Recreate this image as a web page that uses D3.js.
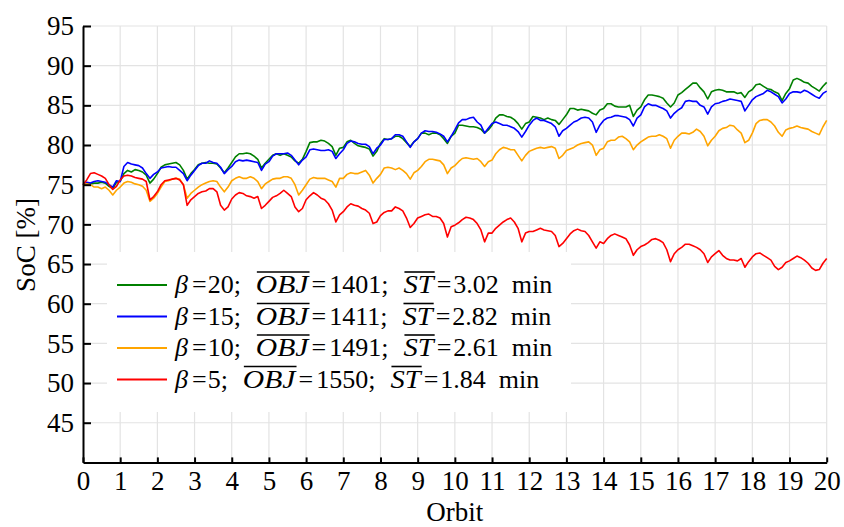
<!DOCTYPE html>
<html>
<head>
<meta charset="utf-8">
<script src="https://cdn.jsdelivr.net/npm/d3@7"></script>
<style>
  html, body { margin: 0; padding: 0; background: #fff; }
  svg { display: block; }
</style>
</head>
<body>
<svg id="chart" width="844" height="527"></svg>
<script>
// State of charge over 20 orbits, sampled every 0.1 orbit
const orbitStep = 0.1;

const socBeta20 = [
  75.0, 75.2, 75.1, 75.2, 75.2, 75.3, 75.2, 74.8, 74.5, 75.3,
  75.4, 76.4, 76.8, 76.6, 76.9, 76.8, 76.6, 76.2, 75.2, 75.7,
  76.4, 77.2, 77.5, 77.6, 77.7, 77.8, 77.5, 76.8, 75.7, 76.4,
  76.9, 77.5, 77.7, 77.8, 77.7, 77.7, 77.6, 77.1, 76.5, 77.1,
  77.8, 78.5, 78.9, 78.9, 79.0, 78.9, 78.6, 78.2, 77.1, 77.7,
  78.2, 78.7, 78.9, 78.7, 78.9, 78.7, 78.5, 78.0, 77.7, 78.2,
  79.2, 80.3, 80.4, 80.4, 80.6, 80.5, 80.2, 79.8, 78.7, 79.6,
  79.7, 80.4, 80.6, 80.2, 79.9, 79.8, 79.7, 79.5, 78.6, 79.2,
  80.2, 80.8, 80.7, 80.8, 81.1, 81.1, 80.8, 80.3, 79.8, 80.4,
  80.8, 81.5, 81.5, 81.3, 81.5, 81.5, 81.3, 80.8, 80.2, 81.1,
  81.5, 82.5, 82.5, 82.4, 82.3, 82.3, 82.2, 82.0, 81.5, 81.9,
  82.5, 83.4, 83.8, 83.8, 83.6, 83.5, 83.2, 82.7, 82.0, 82.7,
  82.9, 83.6, 83.5, 83.4, 83.2, 83.4, 83.2, 83.1, 82.6, 83.2,
  83.8, 84.6, 84.6, 84.4, 84.5, 84.4, 84.3, 84.0, 83.8, 84.4,
  84.6, 85.2, 85.2, 84.9, 84.8, 84.8, 84.8, 85.0, 83.6, 84.4,
  84.8, 85.7, 86.3, 86.3, 86.2, 86.1, 85.9, 85.3, 84.8, 85.3,
  86.3, 86.6, 87.0, 87.4, 87.8, 87.8, 87.2, 86.7, 85.8, 86.7,
  86.9, 87.0, 86.9, 86.7, 86.7, 86.7, 86.5, 86.6, 86.0, 86.7,
  87.0, 87.6, 87.7, 87.4, 87.1, 87.0, 86.7, 86.5, 85.6, 86.5,
  87.1, 88.2, 88.4, 88.2, 87.9, 87.8, 87.4, 87.1, 86.8, 87.4,
  87.9
];

const socBeta15 = [
  75.0, 75.3, 75.2, 75.4, 75.5, 75.4, 75.3, 75.0, 74.7, 75.5,
  75.4, 77.3, 77.8, 77.6, 77.5, 77.4, 77.1, 76.4, 75.8, 76.3,
  76.6, 77.1, 77.2, 77.3, 77.2, 77.2, 76.8, 76.4, 75.5, 76.2,
  76.8, 77.4, 77.7, 77.7, 78.0, 77.8, 77.7, 77.2, 76.4, 76.9,
  77.3, 77.9, 78.1, 78.0, 78.1, 78.0, 77.9, 77.8, 76.8, 77.6,
  77.9, 78.6, 78.9, 78.9, 78.9, 79.0, 78.7, 78.1, 77.5, 78.1,
  78.5, 79.4, 79.5, 79.4, 79.3, 79.3, 79.4, 79.2, 78.3, 78.9,
  79.4, 80.2, 80.5, 80.4, 80.2, 80.1, 80.1, 79.8, 78.9, 79.6,
  80.0, 80.7, 80.7, 80.8, 81.3, 81.3, 81.1, 80.4, 79.7, 80.4,
  80.8, 81.5, 81.8, 81.7, 81.7, 81.6, 81.4, 81.1, 80.4, 81.1,
  81.9, 82.8, 83.2, 83.2, 83.4, 83.5, 82.9, 82.5, 81.5, 82.1,
  82.7, 82.9, 82.7, 82.5, 82.5, 82.3, 82.1, 81.7, 81.0, 81.7,
  82.5, 83.1, 83.4, 83.1, 83.1, 82.9, 82.7, 82.3, 81.1, 81.8,
  82.1, 82.5, 82.9, 83.1, 83.4, 83.5, 83.4, 82.9, 81.6, 82.5,
  83.1, 83.4, 83.5, 83.7, 83.7, 83.6, 83.5, 83.2, 82.4, 83.4,
  83.8, 84.8, 85.2, 85.0, 85.0, 84.8, 84.6, 84.3, 83.4, 84.0,
  84.4, 84.7, 85.5, 85.6, 85.5, 85.5, 85.0, 84.8, 83.9, 84.8,
  85.2, 85.3, 85.5, 85.6, 85.8, 85.7, 85.6, 85.5, 84.3, 85.0,
  85.7, 86.1, 86.3, 86.5, 86.9, 86.7, 86.4, 86.1, 85.3, 85.8,
  86.5, 86.7, 86.7, 86.6, 86.9, 86.7, 86.4, 86.1, 85.9, 86.5,
  86.8
];

const socBeta10 = [
  75.0, 75.1, 75.0, 74.7, 74.7, 74.5, 74.7, 74.3, 73.7, 74.3,
  74.7, 75.2, 75.4, 75.3, 75.1, 75.0, 74.8, 74.3, 72.9, 73.3,
  73.9, 74.7, 75.4, 75.5, 75.7, 75.8, 75.7, 75.0, 73.3, 73.9,
  74.3, 74.7, 75.0, 75.2, 75.4, 75.5, 75.4, 74.7, 74.1, 74.7,
  75.5, 75.8, 76.0, 75.8, 75.8, 76.0, 75.8, 75.4, 74.5, 75.1,
  75.4, 75.7, 75.8, 75.8, 76.0, 76.0, 75.8, 75.0, 73.7, 74.3,
  75.0, 75.7, 75.9, 75.8, 75.8, 75.8, 75.6, 75.4, 74.7, 75.8,
  75.8, 76.3, 76.5, 76.4, 76.4, 76.6, 76.8, 76.2, 75.2, 75.8,
  76.3, 77.1, 77.2, 77.1, 76.9, 77.1, 76.8, 76.4, 75.7, 76.5,
  76.8, 77.3, 77.9, 78.2, 78.2, 78.1, 78.0, 77.5, 76.4, 77.1,
  77.4, 77.9, 78.3, 78.4, 78.3, 78.2, 78.3, 77.9, 77.3, 77.9,
  78.1, 78.9, 79.4, 79.7, 79.6, 79.4, 79.4, 78.7, 78.0, 78.7,
  79.2, 79.4, 79.6, 79.7, 79.6, 79.7, 79.8, 79.6, 78.3, 78.7,
  79.3, 79.5, 79.7, 80.0, 80.2, 80.3, 80.4, 80.0, 78.7, 79.4,
  79.6, 80.4, 80.6, 80.6, 81.0, 81.1, 80.8, 80.4, 79.4, 80.0,
  80.4, 80.7, 81.0, 81.1, 81.1, 81.3, 81.1, 80.8, 79.6, 80.6,
  81.1, 81.5, 81.5, 81.4, 81.6, 82.0, 81.7, 81.1, 79.9, 80.6,
  81.1, 81.8, 82.1, 82.2, 82.5, 82.4, 81.9, 81.5, 80.3, 80.6,
  81.5, 82.7, 83.1, 83.2, 83.2, 82.9, 82.4, 81.6, 81.1, 81.9,
  82.1, 82.2, 82.4, 82.2, 82.1, 82.0, 81.7, 81.5, 81.3, 82.3,
  83.1
];

const socBeta5 = [
  75.0, 75.6, 76.4, 76.5, 76.3, 76.1, 75.8, 75.0, 74.4, 74.8,
  75.6, 76.1, 76.2, 76.1, 75.9, 75.8, 75.7, 75.4, 73.1, 73.5,
  74.1, 75.0, 75.5, 75.6, 75.7, 75.8, 75.6, 75.0, 72.4, 73.1,
  73.5, 73.9, 74.1, 74.2, 74.5, 74.5, 74.1, 72.4, 71.8, 72.2,
  73.2, 73.7, 74.0, 73.9, 73.6, 73.5, 73.3, 73.5, 72.0, 72.4,
  72.9, 73.4, 73.6, 73.9, 74.3, 73.9, 73.5, 72.2, 71.6, 72.0,
  73.1, 73.6, 74.0, 73.7, 73.3, 73.1, 72.6, 71.8, 70.3, 71.2,
  71.6, 72.2, 72.6, 72.4, 72.3, 72.0, 71.8, 71.4, 70.1, 70.3,
  71.1, 71.5, 71.7, 71.7, 72.2, 72.0, 71.7, 70.8, 69.6, 70.1,
  70.8, 71.0, 71.2, 71.3, 71.0, 71.0, 70.8, 70.1, 68.4, 69.7,
  69.9, 70.2, 70.6, 70.9, 70.8, 70.6, 70.1, 69.3, 67.8, 68.9,
  68.9, 69.5, 69.9, 70.3, 70.6, 70.8, 70.3, 69.5, 67.8, 68.9,
  69.1, 69.1, 69.3, 69.5, 69.3, 69.2, 69.1, 68.6, 67.2, 67.6,
  68.2, 68.8, 69.2, 69.4, 69.2, 69.1, 68.6, 67.8, 67.0, 67.8,
  67.6, 68.2, 68.6, 68.8, 68.6, 68.4, 68.2, 67.4, 66.1, 66.8,
  67.2, 67.4, 67.7, 68.1, 68.2, 68.0, 67.7, 66.8, 65.3, 66.3,
  66.8, 67.1, 67.5, 67.5, 67.3, 67.1, 66.8, 66.3, 65.2, 65.9,
  66.3, 66.7, 66.1, 65.7, 65.5, 65.5, 65.4, 65.7, 64.6, 65.3,
  65.9, 66.3, 66.4, 66.1, 65.8, 65.5, 64.7, 64.3, 64.6, 65.2,
  65.4, 65.7, 66.0, 65.8, 65.5, 65.1, 64.5, 64.2, 64.3, 65.1,
  65.7
];

// Legend entries: weighting factor, mean objective, mean solve time
const betaValues = [20, 15, 10, 5];
const objValues = [1401, 1411, 1491, 1550];
const stValues = ["3.02", "2.82", "2.61", "1.84"];
const seriesColors = ["#008000", "#0000ff", "#ffa500", "#ff0000"];
const seriesData = [socBeta20, socBeta15, socBeta10, socBeta5];

const xTickValues = [0, 1, 2, 3, 4, 5, 6, 7, 8, 9, 10, 11, 12, 13, 14, 15, 16, 17, 18, 19, 20];
const yTickValues = [45, 50, 55, 60, 65, 70, 75, 80, 85, 90, 95];

// pick the first installed serif face
function pickFont(candidates) {
  const ctx = document.createElement("canvas").getContext("2d");
  const sample = "SoC Orbit 0123456789 OBJ min";
  ctx.font = "40px monospace";
  const ref = ctx.measureText(sample).width;
  for (const f of candidates) {
    ctx.font = `40px "${f}", monospace`;
    if (Math.abs(ctx.measureText(sample).width - ref) > 0.5) return `"${f}"`;
  }
  return "serif";
}
const serifFont = pickFont(["Liberation Serif", "Tinos", "Times New Roman", "Times", "Nimbus Roman", "DejaVu Serif", "Noto Serif"]);

const svg = d3.select("#chart").style("font-family", serifFont);
const plot = { left: 83, right: 826.7, top: 26, bottom: 462.4 };

const x = d3.scaleLinear().domain([0, 20]).range([plot.left, plot.right]);
const y = d3.scaleLinear().domain([40, 95]).range([plot.bottom, plot.top]);

// grid
const grid = svg.append("g").attr("stroke", "#e3e3e3").attr("stroke-width", 1.2);
grid.selectAll("line.v").data(xTickValues.filter(d => d > 0)).join("line")
  .attr("x1", d => x(d)).attr("x2", d => x(d))
  .attr("y1", y(40)).attr("y2", y(95));
grid.selectAll("line.h").data(yTickValues).join("line")
  .attr("x1", x(0)).attr("x2", x(20))
  .attr("y1", d => y(d)).attr("y2", d => y(d));

// series
const line = d3.line()
  .x((d, i) => x(i * orbitStep))
  .y(d => y(d));

svg.append("g").selectAll("path").data(seriesData).join("path")
  .attr("d", line)
  .attr("fill", "none")
  .attr("stroke", (d, i) => seriesColors[i])
  .attr("stroke-width", 1.6)
  .attr("stroke-linejoin", "round");

// axes
const fontSize = 27;
const yAxis = d3.axisLeft(y).tickValues(yTickValues).tickSizeInner(-8).tickSizeOuter(0).tickPadding(9);
const xAxis = d3.axisBottom(x).tickValues(xTickValues).tickSizeInner(-5).tickSizeOuter(0).tickPadding(8);

const gy = svg.append("g").attr("transform", `translate(${plot.left},0)`).call(yAxis);
const gx = svg.append("g").attr("transform", `translate(0,${plot.bottom})`).call(xAxis);

[gx, gy].forEach(g => {
  g.attr("font-family", null).attr("font-size", null);
  g.select(".domain").attr("stroke", "#000").attr("stroke-width", 2);
  g.selectAll(".tick line").attr("stroke", "#000").attr("stroke-width", 2);
  g.selectAll(".tick text")
    .attr("fill", "#000")
    .attr("font-family", serifFont)
    .style("font-family", serifFont)
    .style("font-size", fontSize + "px");
});

svg.append("text")
  .attr("x", (plot.left + plot.right) / 2).attr("y", 521)
  .attr("text-anchor", "middle")
  .style("font-size", fontSize + "px")
  .text("Orbit");

svg.append("text")
  .attr("transform", "translate(26,245) rotate(-90)")
  .attr("text-anchor", "middle")
  .attr("dy", "0.35em")
  .style("font-size", fontSize + "px")
  .text("SoC [%]");

// legend
const legend = svg.append("g");
legend.append("rect")
  .attr("x", 107).attr("y", 252).attr("width", 464).attr("height", 160)
  .attr("fill", "#fff");

const legendFont = 26;
const rowBaseline0 = 293, rowGap = 31.5;

betaValues.forEach((b, i) => {
  const base = rowBaseline0 + i * rowGap;
  legend.append("line")
    .attr("x1", 117).attr("x2", 167)
    .attr("y1", base - 8).attr("y2", base - 8)
    .attr("stroke", seriesColors[i]).attr("stroke-width", 2);

  const segs = [
    { t: "β", it: true },
    { t: "=", pre: 4, post: 1 },
    { t: b + ";" },
    { t: "OBJ", it: true, over: true, pre: 15, stretch: 1.14 },
    { t: "=", pre: 3, post: 3 },
    { t: objValues[i] + ";" },
    { t: "ST", it: true, over: true, pre: 15, stretch: 1.1 },
    { t: "=", pre: 3, post: 2 },
    { t: stValues[i] + "\u2002min" }
  ];
  let cx = 175;
  segs.forEach(s => {
    cx += s.pre || 0;
    const t = legend.append("text")
      .attr("x", cx).attr("y", base)
      .style("font-size", legendFont + "px")
      .style("font-style", s.it ? "italic" : "normal")
      .text(s.t);
    let w = t.node().getComputedTextLength();
    if (s.stretch) {
      w = w * s.stretch;
      t.attr("textLength", w).attr("lengthAdjust", "spacingAndGlyphs");
    }
    if (s.over) {
      legend.append("line")
        .attr("x1", cx + 1).attr("x2", cx + w + 1)
        .attr("y1", base - 21).attr("y2", base - 21)
        .attr("stroke", "#000").attr("stroke-width", 1.6);
    }
    cx += w + (s.post || 0);
  });
});
</script>
</body>
</html>
